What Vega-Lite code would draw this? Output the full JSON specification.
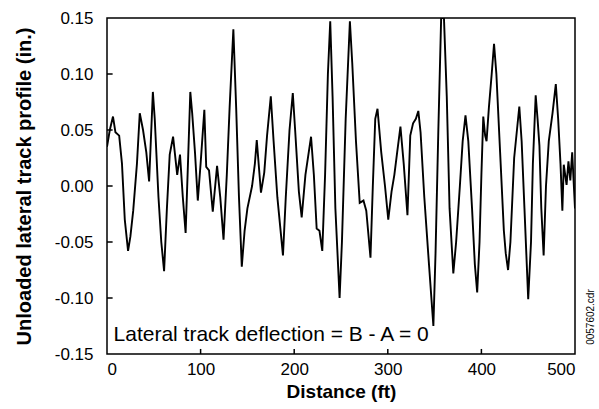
{
  "$schema": "https://vega.github.io/schema/vega-lite/v6.json",
  "autosize": "none",
  "width": 468,
  "height": 336,
  "padding": {"left": 107, "top": 18, "right": 24, "bottom": 55},
  "config": {
    "view": {"stroke": "black", "strokeWidth": 1.5},
    "font": "Liberation Sans",
    "axis": {"domain": false, "grid": false, "ticks": false, "labelColor": "black", "titleColor": "black"}
  },
  "layer": [
    {
      "data": {"values": [
        {"d": 0, "v": 0.035}, {"d": 3, "v": 0.05}, {"d": 6.4, "v": 0.062}, {"d": 9, "v": 0.048}, {"d": 13, "v": 0.045},
        {"d": 16, "v": 0.02}, {"d": 19, "v": -0.03}, {"d": 22.5, "v": -0.058}, {"d": 25, "v": -0.045}, {"d": 28, "v": -0.022},
        {"d": 32, "v": 0.02}, {"d": 35, "v": 0.065}, {"d": 38.5, "v": 0.05}, {"d": 42, "v": 0.03}, {"d": 45, "v": 0.004},
        {"d": 49, "v": 0.084}, {"d": 51, "v": 0.06}, {"d": 55, "v": -0.01}, {"d": 58, "v": -0.05}, {"d": 61, "v": -0.076},
        {"d": 64, "v": -0.02}, {"d": 67, "v": 0.028}, {"d": 70.6, "v": 0.044}, {"d": 75, "v": 0.01}, {"d": 78, "v": 0.028},
        {"d": 81, "v": -0.01}, {"d": 84, "v": -0.042}, {"d": 86.5, "v": 0.02}, {"d": 89, "v": 0.084}, {"d": 91, "v": 0.065},
        {"d": 94, "v": 0.03}, {"d": 97, "v": -0.013}, {"d": 100, "v": 0.02}, {"d": 104, "v": 0.068}, {"d": 106, "v": 0.017},
        {"d": 109, "v": 0.014}, {"d": 113, "v": -0.023}, {"d": 117.6, "v": 0.018}, {"d": 121, "v": -0.01}, {"d": 124.5, "v": -0.048},
        {"d": 128, "v": 0.01}, {"d": 131, "v": 0.07}, {"d": 135, "v": 0.14}, {"d": 138, "v": 0.07}, {"d": 141, "v": -0.01},
        {"d": 144, "v": -0.072}, {"d": 147, "v": -0.04}, {"d": 150, "v": -0.02}, {"d": 155, "v": 0.0}, {"d": 158, "v": 0.02},
        {"d": 160, "v": 0.041}, {"d": 164.5, "v": -0.006}, {"d": 168, "v": 0.012}, {"d": 171, "v": 0.045}, {"d": 175, "v": 0.08},
        {"d": 178, "v": 0.04}, {"d": 182, "v": -0.01}, {"d": 188, "v": -0.062}, {"d": 191, "v": -0.01}, {"d": 195, "v": 0.05},
        {"d": 198.5, "v": 0.083}, {"d": 201, "v": 0.05}, {"d": 205, "v": -0.005}, {"d": 208, "v": -0.028}, {"d": 212, "v": 0.01},
        {"d": 218, "v": 0.044}, {"d": 221, "v": 0.01}, {"d": 224, "v": -0.038}, {"d": 227, "v": -0.04}, {"d": 230, "v": -0.058},
        {"d": 233, "v": 0.01}, {"d": 236, "v": 0.1}, {"d": 238.5, "v": 0.147}, {"d": 241, "v": 0.08}, {"d": 244, "v": -0.02},
        {"d": 248.5, "v": -0.1}, {"d": 251, "v": -0.05}, {"d": 255, "v": 0.06}, {"d": 259.5, "v": 0.147}, {"d": 262, "v": 0.11},
        {"d": 266, "v": 0.04}, {"d": 270, "v": -0.015}, {"d": 274, "v": -0.013}, {"d": 277, "v": -0.022}, {"d": 281.5, "v": -0.064},
        {"d": 284, "v": 0.0}, {"d": 286.6, "v": 0.06}, {"d": 289, "v": 0.069}, {"d": 293, "v": 0.03}, {"d": 297, "v": 0.0},
        {"d": 300.5, "v": -0.03}, {"d": 304, "v": -0.005}, {"d": 307, "v": 0.01}, {"d": 310, "v": 0.03}, {"d": 313.5, "v": 0.053},
        {"d": 317, "v": 0.02}, {"d": 321, "v": -0.026}, {"d": 324, "v": 0.045}, {"d": 327, "v": 0.056}, {"d": 330, "v": 0.06},
        {"d": 332.6, "v": 0.067}, {"d": 335, "v": 0.048}, {"d": 339, "v": -0.01}, {"d": 344, "v": -0.07}, {"d": 348.7, "v": -0.125},
        {"d": 351, "v": -0.06}, {"d": 354, "v": 0.05}, {"d": 357, "v": 0.15}, {"d": 360, "v": 0.15}, {"d": 363, "v": 0.08},
        {"d": 366, "v": -0.02}, {"d": 370, "v": -0.078}, {"d": 373, "v": -0.05}, {"d": 377, "v": 0.0}, {"d": 380, "v": 0.04},
        {"d": 383, "v": 0.063}, {"d": 386, "v": 0.04}, {"d": 390, "v": -0.02}, {"d": 393, "v": -0.07}, {"d": 395.5, "v": -0.095},
        {"d": 398, "v": -0.05}, {"d": 400, "v": 0.01}, {"d": 402, "v": 0.062}, {"d": 404, "v": 0.045}, {"d": 405.5, "v": 0.04},
        {"d": 408, "v": 0.07}, {"d": 411, "v": 0.1}, {"d": 413.5, "v": 0.127}, {"d": 416, "v": 0.1}, {"d": 420, "v": 0.03},
        {"d": 424, "v": -0.04}, {"d": 426, "v": -0.06}, {"d": 428.5, "v": -0.075}, {"d": 431, "v": -0.05}, {"d": 435, "v": 0.025},
        {"d": 440.5, "v": 0.071}, {"d": 443, "v": 0.04}, {"d": 446, "v": -0.02}, {"d": 450, "v": -0.101}, {"d": 453, "v": -0.05},
        {"d": 455, "v": 0.02}, {"d": 458, "v": 0.081}, {"d": 460, "v": 0.06}, {"d": 462, "v": 0.036}, {"d": 464, "v": -0.02},
        {"d": 466.5, "v": -0.062}, {"d": 469, "v": 0.0}, {"d": 472, "v": 0.04}, {"d": 476, "v": 0.065}, {"d": 479.5, "v": 0.091},
        {"d": 482, "v": 0.06}, {"d": 484.5, "v": 0.02}, {"d": 486.5, "v": -0.022}, {"d": 488, "v": 0.019}, {"d": 491, "v": 0.001},
        {"d": 493, "v": 0.022}, {"d": 495, "v": 0.005}, {"d": 497, "v": 0.03}, {"d": 500, "v": -0.02}
      ]},
      "mark": {"type": "line", "color": "black", "strokeWidth": 1.9, "clip": true},
      "encoding": {
        "x": {"field": "d", "type": "quantitative",
              "scale": {"domain": [0, 500], "nice": false, "zero": false},
              "axis": {"title": "Distance (ft)", "values": [0, 100, 200, 300, 400, 500],
                       "labelFontSize": 17, "labelPadding": 7, "titleFontSize": 19, "titleFontWeight": "bold", "titlePadding": 5}},
        "y": {"field": "v", "type": "quantitative",
              "scale": {"domain": [-0.15, 0.15], "nice": false, "zero": false},
              "axis": {"title": "Unloaded lateral track profile (in.)", "values": [-0.15, -0.1, -0.05, 0, 0.05, 0.1, 0.15],
                       "labelExpr": "datum.value < 0 ? '-' + format(-datum.value, '.2f') : format(datum.value, '.2f')",
                       "labelFontSize": 17, "labelPadding": 14, "titleFontSize": 20, "titleFontWeight": "bold", "titlePadding": 20}}
      }
    },
    {
      "data": {"values": [{"t": 100}, {"t": 200}, {"t": 300}, {"t": 400}]},
      "mark": {"type": "rule", "color": "black", "strokeWidth": 1.5},
      "encoding": {
        "x": {"field": "t", "type": "quantitative"},
        "y": {"datum": -0.15},
        "y2": {"datum": -0.1455}
      }
    },
    {
      "data": {"values": [{"t": -0.1}, {"t": -0.05}, {"t": 0}, {"t": 0.05}, {"t": 0.1}]},
      "mark": {"type": "rule", "color": "black", "strokeWidth": 1.5},
      "encoding": {
        "y": {"field": "t", "type": "quantitative"},
        "x": {"datum": 0},
        "x2": {"datum": 6}
      }
    },
    {
      "data": {"values": [{"d": 7, "v": -0.133, "t": "Lateral track deflection = B - A = 0"}]},
      "mark": {"type": "text", "align": "left", "baseline": "middle", "fontSize": 21, "color": "black"},
      "encoding": {
        "x": {"field": "d", "type": "quantitative"},
        "y": {"field": "v", "type": "quantitative"},
        "text": {"field": "t"}
      }
    },
    {
      "data": {"values": [{"d": 517, "v": -0.117, "t": "0057602.cdr"}]},
      "mark": {"type": "text", "align": "center", "baseline": "middle", "fontSize": 10, "angle": 270, "color": "black", "clip": false},
      "encoding": {
        "x": {"field": "d", "type": "quantitative"},
        "y": {"field": "v", "type": "quantitative"},
        "text": {"field": "t"}
      }
    }
  ]
}
